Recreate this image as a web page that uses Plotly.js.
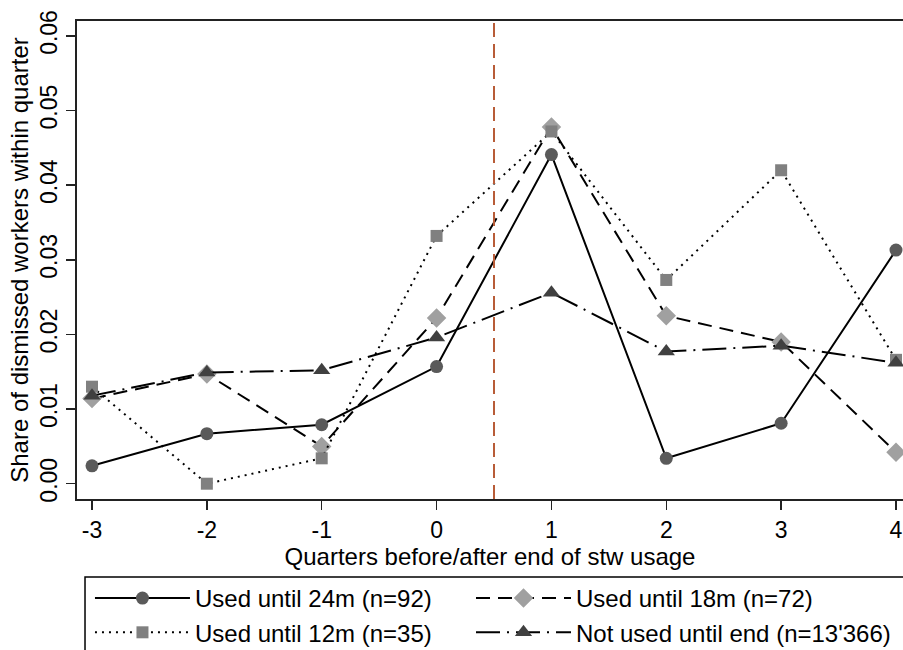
<!DOCTYPE html>
<html>
<head>
<meta charset="utf-8">
<script src="https://cdn.plot.ly/plotly-3.0.1.min.js"></script>
<style>html,body{margin:0;padding:0;background:#fff;}#chart{width:903px;height:650px;}</style>
</head>
<body>
<div id="chart"></div>
<script>
const quarters = [-3, -2, -1, 0, 1, 2, 3, 4];
const used24 = [0.0024, 0.0067, 0.0079, 0.0157, 0.0441, 0.0034, 0.0081, 0.0313];
const used18 = [0.0114, 0.0147, 0.0050, 0.0222, 0.0478, 0.0225, 0.0190, 0.0042];
const used12 = [0.0130, 0.0000, 0.0034, 0.0332, 0.0472, 0.0273, 0.0420, 0.0166];
const notUsed = [0.0118, 0.0149, 0.0152, 0.0196, 0.0256, 0.0177, 0.0185, 0.0162];
const seriesNames = ["Used until 24m (n=92)", "Used until 18m (n=72)", "Used until 12m (n=35)", "Not used until end (n=13'366)"];
const endLine = 0.5;
const yTicks = [0, 0.01, 0.02, 0.03, 0.04, 0.05, 0.06];
const yTickText = ["0.00", "0.01", "0.02", "0.03", "0.04", "0.05", "0.06"];
const xTicks = [-3, -2, -1, 0, 1, 2, 3, 4];

const font = "Liberation Sans, Arial, sans-serif";

const traces = [
  {x: quarters, y: used24, name: seriesNames[0], mode: "lines+markers", legend: "legend", legendgroup: "a",
   line: {color: "#000", width: 2, dash: "solid"},
   marker: {symbol: "circle", size: 13, color: "#5a5a5a"}},
  {x: quarters, y: used18, name: seriesNames[1], mode: "lines+markers", legend: "legend2", legendgroup: "b",
   line: {color: "#000", width: 2, dash: "14px,8px"},
   marker: {symbol: "diamond", size: 15, color: "#a0a0a0"}},
  {x: quarters, y: used12, name: seriesNames[2], mode: "lines+markers", legend: "legend", legendgroup: "c",
   line: {color: "#000", width: 2, dash: "2px,5px"},
   marker: {symbol: "square", size: 12, color: "#808080"}},
  {x: quarters, y: notUsed, name: seriesNames[3], mode: "lines+markers", legend: "legend2", legendgroup: "d",
   line: {color: "#000", width: 2, dash: "24px,7px,2px,7px"},
   marker: {symbol: "triangle-up", size: 15, color: "#404040"}}
];

const legendCommon = {
  orientation: "v", xanchor: "left", y: -0.1611, yanchor: "top",
  borderwidth: 0, bgcolor: "rgba(0,0,0,0)",
  font: {size: 24, family: font}, itemwidth: 95,
  traceorder: "normal", tracegroupgap: 2
};

const layout = {
  width: 903, height: 650,
  margin: {l: 77, r: 0, t: 21, b: 151, autoexpand: false},
  paper_bgcolor: "#fff", plot_bgcolor: "#fff",
  font: {family: font, size: 23, color: "#000"},
  showlegend: true,
  xaxis: {
    range: [-3.1306, 4.061], tickvals: xTicks, ticktext: xTicks.map(String),
    showgrid: false, zeroline: false, showline: true, linecolor: "#222", linewidth: 2,
    mirror: true, ticks: "outside", ticklen: 9, tickwidth: 1.5, tickcolor: "#222",
    tickfont: {size: 23}, automargin: false,
    title: {text: "Quarters before/after end of stw usage", font: {size: 24}, standoff: 0}
  },
  yaxis: {
    range: [-0.00205, 0.0620], tickvals: yTicks, ticktext: yTickText,
    showgrid: false, zeroline: false, showline: true, linecolor: "#222", linewidth: 2,
    mirror: true, ticks: "outside", ticklen: 9, tickwidth: 1.5, tickcolor: "#222",
    tickangle: -90, tickfont: {size: 23}, automargin: false,
    title: {text: "Share of dismissed workers within quarter", font: {size: 24}, standoff: 0}
  },
  shapes: [
    {type: "line", xref: "x", yref: "paper", x0: endLine, x1: endLine, y0: 0, y1: 1,
     line: {color: "#b85c38", width: 2, dash: "14px,7px"}},
    {type: "rect", xref: "paper", yref: "paper", x0: 0.0097, x1: 1.02, y0: -0.1632, y1: -0.345,
     line: {color: "#000", width: 1.5}, fillcolor: "rgba(0,0,0,0)"}
  ],
  legend: Object.assign({}, legendCommon, {x: 0.0157}),
  legend2: Object.assign({}, legendCommon, {x: 0.4770})
};

Plotly.newPlot("chart", traces, layout, {displayModeBar: false, staticPlot: true});
</script>
</body>
</html>
